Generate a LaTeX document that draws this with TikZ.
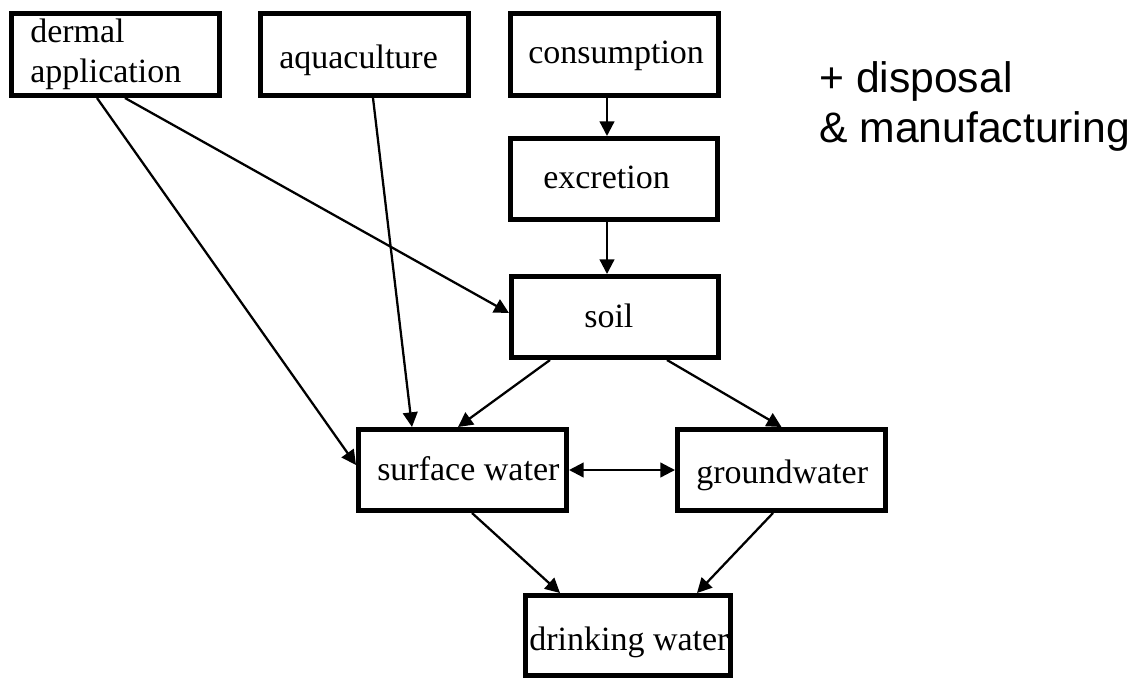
\documentclass[tikz,border=0pt]{standalone}
\usepackage{fontspec}
\setmainfont{Liberation Serif}
\newfontfamily\arialf{Liberation Sans}
\usetikzlibrary{arrows.meta,calc}
\tikzset{
  bx/.style={draw=black, line width=3.75pt, inner sep=0pt, fill=white},
  lbl/.style={anchor=base west, inner sep=0pt, font=\fontsize{25.5pt}{30pt}\selectfont},
  note/.style={anchor=base west, inner sep=0pt, font=\arialf\fontsize{32pt}{36pt}\selectfont},
  arr/.style={line width=1.7pt, -{Triangle[length=11pt,width=11pt]}},
  darr/.style={line width=1.7pt, {Triangle[length=11pt,width=11pt]}-{Triangle[length=11pt,width=11pt]}}
}
\begin{document}
\begin{tikzpicture}[x=0.75pt,y=-0.75pt]
\useasboundingbox (0,0) rectangle (1145,679);
% boxes
\node[bx, minimum width=156pt, minimum height=61.5pt] (derm) at (115.5,54.5) {};
\node[bx, minimum width=156pt, minimum height=61.5pt] (aqua) at (364.5,54.5) {};
\node[bx, minimum width=156pt, minimum height=61.5pt] (cons) at (614.5,54.5) {};
\node[bx, minimum width=155.25pt, minimum height=60.75pt] (excr) at (614,179) {};
\node[bx, minimum width=155.25pt, minimum height=60.75pt] (soil) at (615,317) {};
\node[bx, minimum width=156pt, minimum height=60.75pt] (sw) at (462.5,470) {};
\node[bx, minimum width=156pt, minimum height=60.75pt] (gw) at (781.5,470) {};
\node[bx, minimum width=153.75pt, minimum height=60pt] (dw) at (628,635.5) {};
% labels
\node[lbl] (tderm1) at (30,42) {dermal};
\node[lbl] (tderm2) at (30,82) {application};
\node[lbl] (taqua) at (279,68) {aquaculture};
\node[lbl] (tcons) at (528,63) {consumption};
\node[lbl] (texcr) at (543,188) {excretion};
\node[lbl] (tsoil) at (584,327) {soil};
\node[lbl] (tsw) at (377,480) {surface water};
\node[lbl] (tgw) at (696,483) {groundwater};
\node[lbl] (tdw) at (529,650) {drinking water};
\node[note] (n1) at (819,92) {+ disposal};
\node[note] (n2) at (819,142) {\& manufacturing};
% connectors
\draw[arr] ($(cons.south)+(-7.5,0)$) -- ($(excr.north)+(-7,0)$);
\draw[arr] ($(excr.south)+(-7,0)$) -- ($(soil.north)+(-8,0)$);
\draw[arr] ($(derm.south)+(9.5,0)$) -- ($(soil.west)+(0,-4)$);
\draw[arr] ($(derm.south)+(-18.5,0)$) -- ($(sw.west)+(0,-5)$);
\draw[arr] ($(aqua.south)+(8.5,0)$) -- ($(sw.north)+(-50.5,0)$);
\draw[arr] ($(soil.south)+(-65,0)$) -- ($(sw.north)+(-4.5,0)$);
\draw[arr] ($(soil.south)+(52,0)$) -- (gw.north);
\draw[darr] (sw.east) -- (gw.west);
\draw[arr] ($(sw.south)+(9.5,0)$) -- ($(dw.north)+(-68,0)$);
\draw[arr] ($(gw.south)+(-8.5,0)$) -- ($(dw.north)+(69,0)$);
\end{tikzpicture}
\end{document}
